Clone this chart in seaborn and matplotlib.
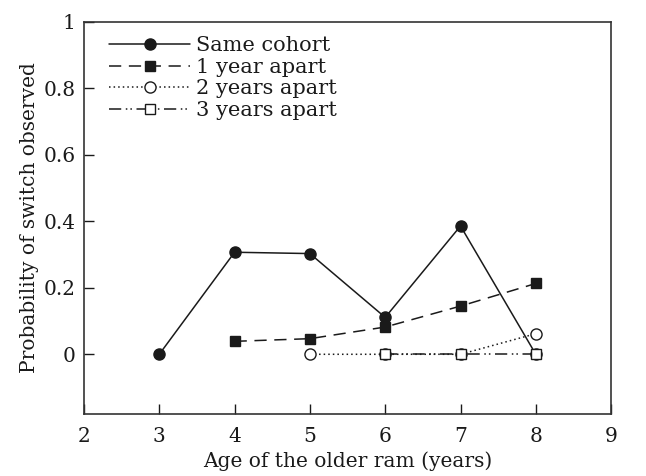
import matplotlib
matplotlib.use("Agg")
import matplotlib.pyplot as plt
import seaborn as sns
import pandas as pd

sns.set_theme(style="ticks")
plt.rcParams['font.family'] = ['DejaVu Serif']

same_x = [3, 4, 5, 6, 7, 8]
same_y = [0.0, 0.307, 0.303, 0.111, 0.386, 0.0]
one_x = [4, 5, 6, 7, 8]
one_y = [0.039, 0.047, 0.082, 0.145, 0.213]
two_x = [5, 6, 7, 8]
two_y = [0.0, 0.0, 0.0, 0.062]
three_x = [6, 7, 8]
three_y = [0.0, 0.0, 0.0]

labels = ["Same cohort", "1 year apart", "2 years apart", "3 years apart"]
xticks = [2, 3, 4, 5, 6, 7, 8, 9]
yticks = [0, 0.2, 0.4, 0.6, 0.8, 1]
ytick_labels = ["0", "0.2", "0.4", "0.6", "0.8", "1"]

fig = plt.figure(figsize=(6.46, 4.76), dpi=100)
ax = fig.add_axes([0.130, 0.130, 0.816, 0.824])

series = [
    (same_x, same_y, labels[0], dict(linestyle='-', marker='o', markerfacecolor='#1a1a1a', markersize=8)),
    (one_x, one_y, labels[1], dict(linestyle=(0, (8, 5)), marker='s', markerfacecolor='#1a1a1a', markersize=7.2)),
    (two_x, two_y, labels[2], dict(linestyle=(0, (1, 2)), marker='o', markerfacecolor='white', markersize=8)),
    (three_x, three_y, labels[3], dict(linestyle=(0, (8, 3, 1, 2, 1, 3)), marker='s', markerfacecolor='white', markersize=7.2)),
]
for xs, ys, lab, st in series:
    df = pd.DataFrame({"x": xs, "y": ys})
    sns.lineplot(data=df, x="x", y="y", ax=ax, color='#1a1a1a', label=lab,
                 linewidth=1.1, markeredgecolor='#1a1a1a', markeredgewidth=1.0,
                 **st)

ax.set_xlim(2, 9)
ax.set_ylim(-0.18, 1)
ax.set_xticks(xticks)
ax.set_yticks(yticks)
ax.set_yticklabels(ytick_labels)
ax.tick_params(direction='in', length=7, width=1, labelsize=14.5, colors='#1a1a1a', pad=6,
               top=False, right=False)
ax.tick_params(axis='x', pad=9)
for s in ax.spines.values():
    s.set_visible(True)
    s.set_color('#333333')
    s.set_linewidth(1.2)
ax.set_xlabel("Age of the older ram (years)", fontsize=14.5, color='#1a1a1a', labelpad=4)
ax.set_ylabel("Probability of switch observed", fontsize=14.5, color='#1a1a1a', labelpad=3)

leg = ax.legend(loc='upper left', frameon=False, fontsize=15, handlelength=3.9,
                handletextpad=0.25, labelspacing=0.12, borderaxespad=0.3,
                bbox_to_anchor=(0.02, 1.0))
for t in leg.get_texts():
    t.set_color('#1a1a1a')

fig.savefig("out.png", dpi=100)
